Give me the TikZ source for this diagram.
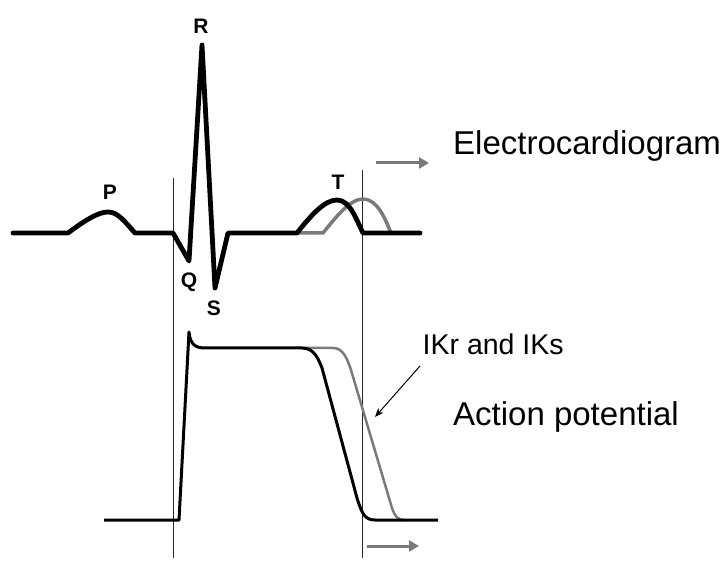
\documentclass[tikz,border=0pt]{standalone}
\usepackage{fontspec}
\setmainfont{Liberation Sans}
\usetikzlibrary{arrows.meta}
\definecolor{shift}{HTML}{7A7A7A}
\tikzset{
  ecg/.style={line width=4.8pt, line join=round, line cap=round},
  ecgshift/.style={line width=3.5pt, color=shift, line join=round},
  ap/.style={line width=3pt, line join=round},
  apshift/.style={line width=2.5pt, color=shift, line join=round},
  guide/.style={line width=0.8pt, color=black!85},
  shiftarrow/.style={line width=3pt, color=shift, -{Triangle[length=10pt,width=11pt]}},
  wavelbl/.style={font=\bfseries\fontsize{21}{25}\selectfont, inner sep=0pt},
  bigtxt/.style={font=\fontsize{33}{39}\selectfont, anchor=base west, inner sep=0pt},
  midtxt/.style={font=\fontsize{28.5}{34}\selectfont, anchor=base west, inner sep=0pt},
  pointer/.style={line width=1pt, -{Stealth[length=9pt,width=7pt]}}
}
\begin{document}
\begin{tikzpicture}[x=1pt,y=-1pt]
\path[use as bounding box] (0,0) rectangle (721,561);
% guide lines
\coordinate (g1t) at (173,178);
\coordinate (g1b) at (173,558);
\coordinate (g2t) at (362,170);
\coordinate (g2b) at (362,558);
\draw[guide] (g1t) -- (g1b);
\draw[guide] (g2t) -- (g2b);
% ECG shifted T wave
\draw[ecgshift] (297,233) -- (323,233) .. controls (336,217) and (350,199) .. (363,199)
  .. controls (377,199) and (385,218) .. (391,233);
% ECG
\draw[ecg] (13,233) -- (68,233) .. controls (84,221) and (98,212) .. (108,212)
  .. controls (118,212) and (125,222) .. (135,233) -- (173,233) -- (189,261)
  -- (202,45) -- (215,288) -- (228,233) -- (297,233)
  .. controls (312,214) and (325,200) .. (337,200)
  .. controls (350,200) and (356,219) .. (363,233) -- (420,233);
% AP shifted
\draw[apshift] (300,348) -- (333,348) .. controls (343,348) and (347,358) .. (351,370)
  -- (392,508) .. controls (395,516) and (397,520) .. (405,520);
% AP
\draw[ap] (104,520) -- (179,520) -- (189,332) .. controls (190,344) and (195,348) .. (205,348)
  -- (302,348) .. controls (314,348) and (318,358) .. (322,368)
  -- (357,498) .. controls (362,514) and (365,520) .. (375,520) -- (438,520);
% wave labels
\node[wavelbl] (R) at (201,26) {R};
\node[wavelbl] (P) at (110,192) {P};
\node[wavelbl] (Q) at (189,282) {Q};
\node[wavelbl] (S) at (214,308) {S};
\node[wavelbl] (T) at (338,182) {T};
% titles
\node[bigtxt] (ecgt) at (453,155) {Electrocardiogram};
\node[bigtxt] (apt) at (453,426) {Action potential};
\node[midtxt] (ik) at (422.5,355) {IKr and IKs};
% shift arrows
\coordinate (a1s) at (376,163);
\coordinate (a1e) at (429,163);
\draw[shiftarrow] (a1s) -- (a1e);
\coordinate (a2s) at (367,546);
\coordinate (a2e) at (419,546);
\draw[shiftarrow] (a2s) -- (a2e);
% pointer
\coordinate (ps) at (420,366);
\coordinate (pe) at (375,417);
\draw[pointer] (ps) -- (pe);
\end{tikzpicture}
\end{document}
